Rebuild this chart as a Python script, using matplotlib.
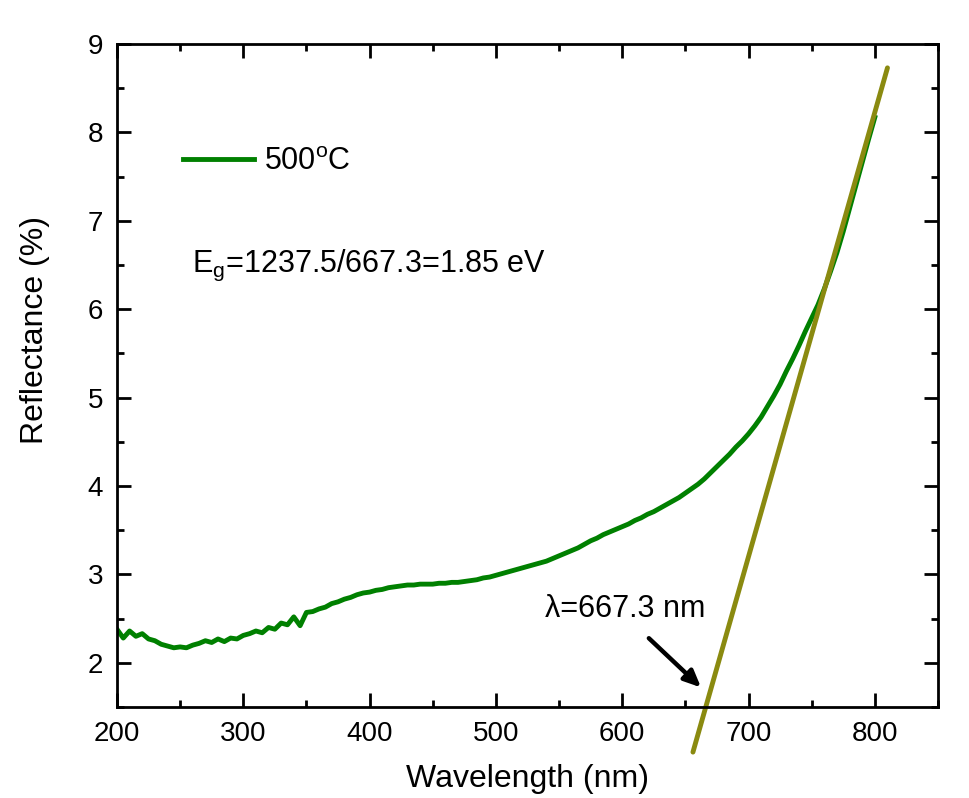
import numpy as np
import matplotlib
matplotlib.use('Agg')
import matplotlib.pyplot as plt
from matplotlib.ticker import MultipleLocator

plt.rcParams['font.family'] = ['Liberation Sans', 'DejaVu Sans']
plt.rcParams['mathtext.fontset'] = 'custom'
plt.rcParams['mathtext.rm'] = 'Liberation Sans'
plt.rcParams['mathtext.it'] = 'Liberation Sans:italic'

# reflectance spectrum, sampled every 5 nm from 200 to 800 nm
wavelength = np.arange(200, 805, 5)
reflectance = [
    2.38, 2.28, 2.36, 2.30, 2.33, 2.27, 2.25, 2.21, 2.19, 2.17,   # 200-245
    2.18, 2.17, 2.20, 2.22, 2.25, 2.23, 2.27, 2.24, 2.28, 2.27,   # 250-295
    2.31, 2.33, 2.36, 2.34, 2.40, 2.38, 2.45, 2.43, 2.52, 2.42,   # 300-345
    2.57, 2.58, 2.61, 2.63, 2.67, 2.69, 2.72, 2.74, 2.77, 2.79,   # 350-395
    2.80, 2.82, 2.83, 2.85, 2.86, 2.87, 2.88, 2.88, 2.89, 2.89,   # 400-445
    2.89, 2.90, 2.90, 2.91, 2.91, 2.92, 2.93, 2.94, 2.96, 2.97,   # 450-495
    2.99, 3.01, 3.03, 3.05, 3.07, 3.09, 3.11, 3.13, 3.15, 3.18,   # 500-545
    3.21, 3.24, 3.27, 3.30, 3.34, 3.38, 3.41, 3.45, 3.48, 3.51,   # 550-595
    3.54, 3.57, 3.61, 3.64, 3.68, 3.71, 3.75, 3.79, 3.83, 3.87,   # 600-645
    3.92, 3.97, 4.02, 4.08, 4.15, 4.22, 4.29, 4.36, 4.44, 4.51,   # 650-695
    4.59, 4.68, 4.78, 4.90, 5.02, 5.15, 5.30, 5.44, 5.59, 5.75,   # 700-745
    5.90, 6.05, 6.23, 6.43, 6.64, 6.88, 7.14, 7.40, 7.66, 7.92,   # 750-795
    8.17,                                                         # 800
]

# linear fit of the absorption edge
fit_x = [656.0, 810.0]
fit_y = [0.99, 8.73]

fig = plt.figure(figsize=(9.69, 7.98), dpi=100)
ax = fig.add_axes([0.1207, 0.114, 0.8473, 0.8309])

ax.plot(wavelength, reflectance, color='#008000', lw=3.5, label='500$^\\mathrm{o}$C')
ax.plot(fit_x, fit_y, color='#8a8a10', lw=3.5, solid_capstyle='round', clip_on=False)

ax.set_xlim(200, 850)
ax.set_ylim(1.5, 9)
ax.xaxis.set_major_locator(MultipleLocator(100))
ax.xaxis.set_minor_locator(MultipleLocator(50))
ax.yaxis.set_major_locator(MultipleLocator(1))
ax.yaxis.set_minor_locator(MultipleLocator(0.5))
ax.tick_params(which='both', direction='in', top=True, right=True, width=2)
ax.tick_params(which='major', length=10, labelsize=20, pad=10)
ax.tick_params(which='minor', length=5)
for s in ax.spines.values():
    s.set_linewidth(2)

ax.set_xlabel('Wavelength (nm)', fontsize=23, labelpad=12)
ax.set_ylabel('Reflectance (%)', fontsize=23)
ax.yaxis.set_label_coords(-0.081, 0.569)

ax.legend(loc='center left', bbox_to_anchor=(0.08, 0.822), frameon=False,
          fontsize=22, handlelength=2.35, handletextpad=0.3, borderpad=0,
          borderaxespad=0)

ax.text(0.0915, 0.656, 'E$_\\mathrm{g}$=1237.5/667.3=1.85 eV', fontsize=22,
        transform=ax.transAxes, va='baseline')
ax.text(0.521, 0.136, 'λ=667.3 nm', fontsize=22,
        transform=ax.transAxes, va='baseline')
ax.annotate('', xy=(664, 1.70), xytext=(619.5, 2.30),
            arrowprops=dict(arrowstyle='-|>,head_length=1.0,head_width=0.45',
                            color='black', lw=3.2))

plt.savefig('out.png', dpi=100)
